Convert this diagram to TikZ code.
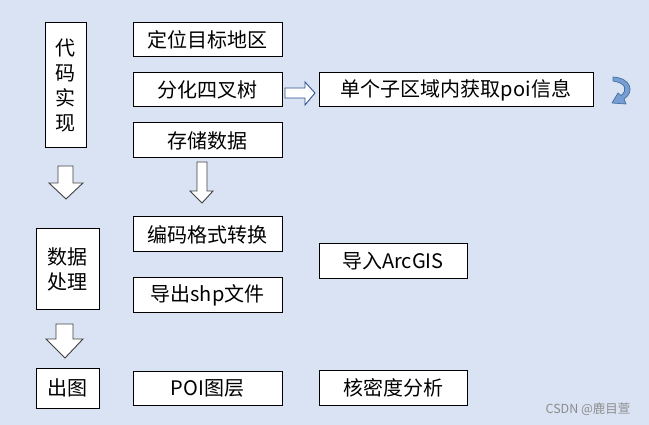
\documentclass[tikz,border=0pt]{standalone}
\usepackage{fontspec}
\newfontfamily\cnfont{Noto Sans CJK SC}
\definecolor{bgblue}{HTML}{DAE3F3}
\definecolor{arrowline}{RGB}{47,82,143}
\definecolor{curvefill}{RGB}{120,157,212}
\definecolor{curveline}{RGB}{65,113,156}
\tikzset{
  box/.style={draw=black, fill=white, line width=1pt, inner sep=0pt, align=center,
    font=\cnfont\fontsize{20}{25}\selectfont},
  blockarrow/.style={draw=black!75, fill=white, line width=0.9pt, line join=miter},
}
\begin{document}
\begin{tikzpicture}[x=1pt,y=-1pt]
\useasboundingbox[fill=bgblue] (0,0) rectangle (649,425);

% left column
\node[box, minimum width=41pt, minimum height=125pt] (impl) at (65.5,85.5) {代\\码\\实\\现};
\node[box, minimum width=63pt, minimum height=81pt] (process) at (67.5,269.5) {数据\\处理};
\node[box, minimum width=63pt, minimum height=40pt] (output) at (67.5,388) {出图};

% middle column
\node[box, minimum width=149pt, minimum height=34pt] (locate) at (207.5,40) {定位目标地区};
\node[box, minimum width=149pt, minimum height=34pt] (split) at (207.5,90) {分化四叉树};
\node[box, minimum width=149pt, minimum height=35pt] (store) at (207.5,140.5) {存储数据};
\node[box, minimum width=149pt, minimum height=35pt] (encode) at (207.5,234.5) {编码格式转换};
\node[box, minimum width=149pt, minimum height=35pt] (export) at (207.5,295.5) {导出shp文件};
\node[box, minimum width=149pt, minimum height=34pt] (poi) at (207.5,388) {POI图层};

% right column
\node[box, minimum width=274pt, minimum height=34pt] (fetch) at (456,90) {单个子区域内获取poi信息};
\node[box, minimum width=148pt, minimum height=35pt] (arcgis) at (393,261.5) {导入ArcGIS};
\node[box, minimum width=148pt, minimum height=35pt] (kde) at (393,387.5) {核密度分析};

% block arrows
\draw[blockarrow, draw=arrowline] (285,88) -- (305,88) -- (305,82) -- (315,93) -- (305,105)
  -- (305,98) -- (285,98) -- cycle;
\draw[blockarrow] (58,166) -- (73,166) -- (73,183) -- (83,183) -- (66,199) -- (49,183)
  -- (58,183) -- cycle;
\draw[blockarrow] (197,162) -- (207,162) -- (207,191) -- (213,191) -- (202,203) -- (190,191)
  -- (197,191) -- cycle;
\draw[blockarrow] (56,324) -- (73,324) -- (73,339) -- (83,339) -- (65,358) -- (46,339)
  -- (56,339) -- cycle;

% curved arrow
\draw[fill=curvefill, draw=curveline, line width=0.7pt, line join=round]
  (613,77) .. controls (631,78) and (635,92) .. (624,99) -- (626,104) -- (612,103)
  -- (618,93) -- (621,95.5) .. controls (628,90) and (626,83) .. (613,81) -- cycle;

% watermark
\node[text=black!45, font=\cnfont\fontsize{12.5}{14}\selectfont, anchor=east] (mark) at (634,409) {CSDN @鹿目萱};
\end{tikzpicture}
\end{document}
